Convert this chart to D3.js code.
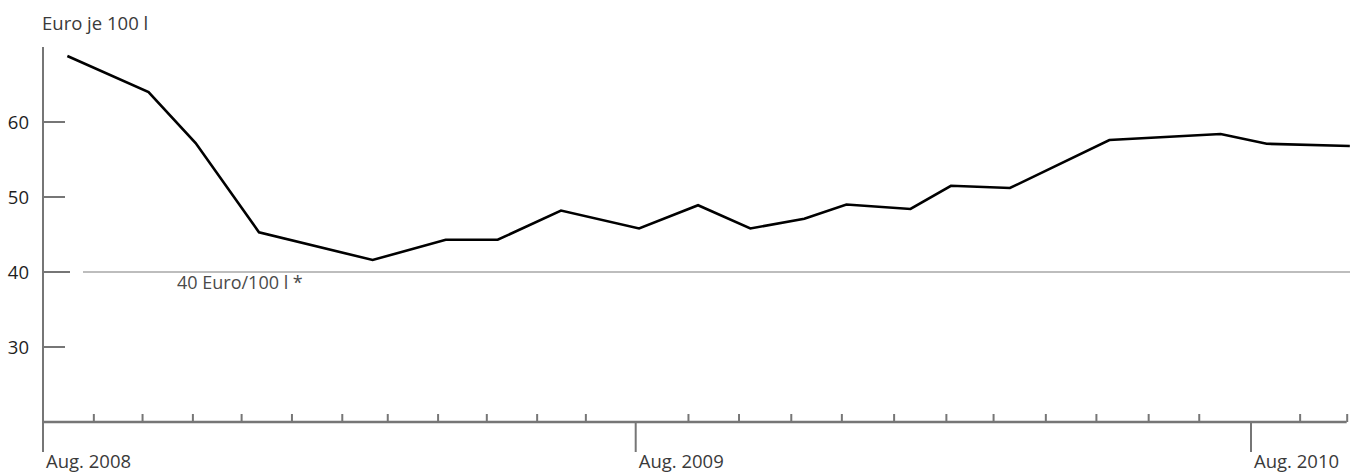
<!DOCTYPE html>
<html><head><meta charset="utf-8">
<script src="https://cdn.jsdelivr.net/npm/d3@7"></script>
<style>body{margin:0;background:#fff}svg{display:block}text{font-family:"Open Sans",sans-serif}</style>
</head><body><svg id="c" width="1355" height="472"></svg>
<script>
// ---- data ----
const dates = ["2008-08-16","2008-10-05","2008-11-03","2008-12-12","2009-02-20","2009-04-06","2009-05-08","2009-06-16","2009-08-03","2009-09-07","2009-10-08","2009-11-09","2009-12-04","2010-01-11","2010-02-04","2010-03-11","2010-05-09","2010-07-14","2010-08-11","2010-10-03"];
const prices = [68.8,64.0,57.2,45.3,41.6,44.3,44.3,48.2,45.8,48.9,45.8,47.1,49.0,48.4,51.5,51.2,57.6,58.4,57.1,56.8];
const yTicks = [30,40,50,60];
const majorDates = ["2008-08-01","2009-08-01","2010-08-01"];
const majorLabels = ["Aug. 2008","Aug. 2009","Aug. 2010"];
const axisEndDate = "2010-10-01";
const threshold = 40;
const thresholdLabel = "40 Euro/100 l *";
const yTitle = "Euro je 100 l";

// ---- setup ----
const parse = d3.timeParse("%Y-%m-%d");
const data = dates.map((d,i)=>({date:parse(d), value:prices[i]}));
const majors = majorDates.map(parse);
const endDate = parse(axisEndDate);
const svg = d3.select("#c");
const axisColor = "#767676";

const x = d3.scaleTime()
  .domain([majors[0], majors[1], majors[2], endDate])
  .range([43, 635.7, 1251, 1346.7]);
const y = d3.scaleLinear().domain([20,70]).range([422,47]);

// title
svg.append("text").attr("x",42).attr("y",30).attr("font-size",18.5).attr("fill","#3a3a3a").text(yTitle);

// threshold line
svg.append("line").attr("x1",83).attr("x2",1350).attr("y1",y(threshold)).attr("y2",y(threshold))
  .attr("stroke","#bdbdbd").attr("stroke-width",2);
svg.append("text").attr("x",177).attr("y",y(threshold)+17).attr("font-size",18).attr("fill","#4a4a4a").text(thresholdLabel);

// y axis
svg.append("line").attr("x1",43).attr("x2",43).attr("y1",y(70)).attr("y2",452)
  .attr("stroke",axisColor).attr("stroke-width",2);
const yt = svg.append("g").selectAll("g").data(yTicks).join("g");
yt.append("line").attr("x1",43).attr("x2",d=>d===threshold?70:65)
  .attr("y1",d=>y(d)).attr("y2",d=>y(d)).attr("stroke",axisColor).attr("stroke-width",2);
yt.append("text").attr("x",29).attr("y",d=>y(d)).attr("dy","0.36em").attr("text-anchor","end")
  .attr("font-size",18.5).attr("fill","#1e1e1e").text(d=>d);

// x axis (minor monthly ticks via d3.axisTop)
const minor = d3.timeMonth.range(majors[0], d3.timeDay.offset(endDate,1)).filter(d=>d.getMonth()!==7);
const xAxis = d3.axisTop(x).tickValues(minor).tickSize(8).tickFormat("");
const gx = svg.append("g").attr("transform","translate(0,422)").call(xAxis);
gx.select(".domain").attr("stroke",axisColor).attr("stroke-width",2.4).attr("d",`M43,0H${x(endDate)}`);
gx.selectAll(".tick line").attr("stroke",axisColor).attr("stroke-width",2);

// major ticks
const mj = svg.append("g").selectAll("g").data(majors).join("g");
mj.append("line").attr("x1",d=>x(d)).attr("x2",d=>x(d)).attr("y1",421).attr("y2",452)
  .attr("stroke",axisColor).attr("stroke-width",2);
mj.append("text").attr("x",d=>x(d)+3).attr("y",468).attr("font-size",18.5).attr("fill","#3a3a3a")
  .text((d,i)=>majorLabels[i]);

// price line
svg.append("path").datum(data)
  .attr("d", d3.line().x(d=>x(d.date)).y(d=>y(d.value)))
  .attr("fill","none").attr("stroke","#000").attr("stroke-width",2.6).attr("stroke-linejoin","miter");
</script>
</body></html>
